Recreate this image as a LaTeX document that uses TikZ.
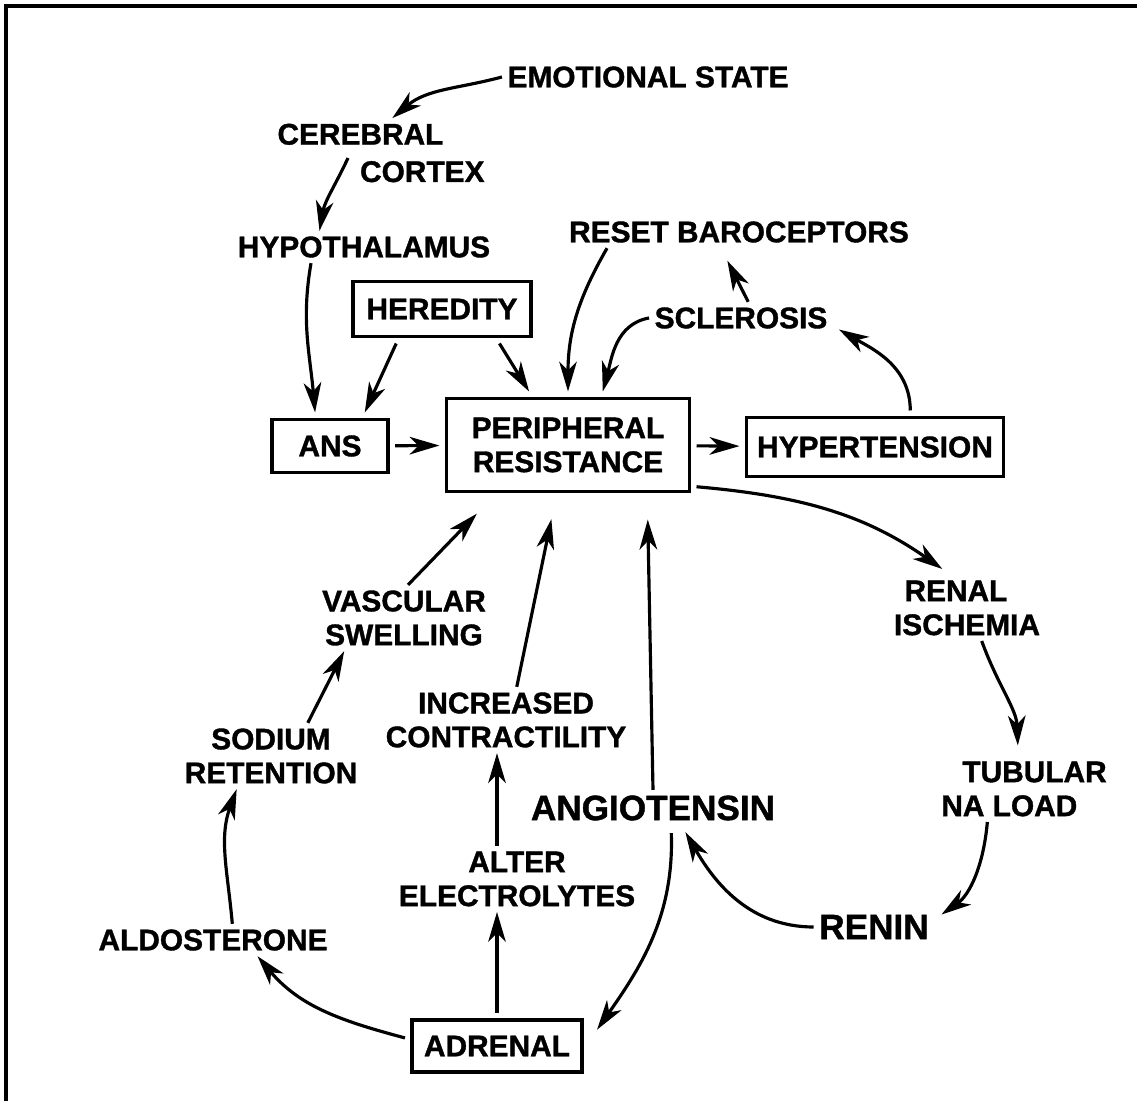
\documentclass[tikz,border=0pt]{standalone}
\usepackage{fontspec}
\setmainfont{Liberation Sans}[BoldFeatures={FakeBold=1.2}]
\usetikzlibrary{arrows.meta}
\tikzstyle{term}=[inner sep=3pt, align=center, font=\fontsize{17}{19.3}\selectfont\bfseries]
\tikzstyle{bigterm}=[term, font=\fontsize{20}{22}\selectfont\bfseries]
\tikzstyle{factor}=[term, draw, line width=1.8pt, outer sep=4pt]
\tikzstyle{conn}=[line width=1.8pt, -{Stealth[length=17pt,width=10pt,inset=5pt]}]
\newcommand{\term}{\node[term]}
\newcommand{\factor}{\node[factor]}

\begin{document}
\begin{tikzpicture}[x=0.02cm, y=-0.02cm]
\useasboundingbox (0,0) rectangle (1137,1101);
\draw[line width=2.6pt] (6,1101) -- (6,6) -- (1137,6);

\term (emo) at (648,77) {EMOTIONAL STATE};
    \term[align=left] (cer) at (381,153) {CEREBRAL\\[2pt]\hspace*{47pt}CORTEX};
    \term (hyp) at (364,247) {HYPOTHALAMUS};
    \term (rb) at (739,232) {RESET BAROCEPTORS};
    \term (scl) at (741,318) {SCLEROSIS};
    \factor[minimum width=3.56cm, minimum height=1.10cm] (her) at (442,309) {HEREDITY};
    \factor[minimum width=2.32cm, minimum height=1.06cm] (ans) at (330,446) {ANS};
    \factor[minimum width=4.86cm, minimum height=1.86cm] (per) at (568,445) {PERIPHERAL\\RESISTANCE};
    \factor[minimum width=5.14cm, minimum height=1.18cm] (hyt) at (875,447) {HYPERTENSION};
    \term[align=left] (ren) at (967,608) {\hspace*{6pt}RENAL\\ISCHEMIA};
    \term (vas) at (404,618) {VASCULAR\\SWELLING};
    \term (inc) at (506,720) {INCREASED\\CONTRACTILITY};
    \term (sod) at (271,756) {SODIUM\\RETENTION};
    \node[bigterm] (ang) at (653,808) {ANGIOTENSIN};
    \term[align=left] (tub) at (1024,789) {\hspace*{12pt}TUBULAR\\NA LOAD};
    \term (alt) at (517,879) {ALTER\\ELECTROLYTES};
    \node[bigterm] (rnn) at (874,927) {RENIN};
    \term (ald) at (213,940) {ALDOSTERONE};
    \factor[minimum width=3.40cm, minimum height=1.04cm] (adr) at (497,1046) {ADRENAL};
    ;
    \path[conn]
    (emo.west) edge[out=195,in=40] (cer.72)
    ([shift={(-33,5)}]cer.center) edge[out=245,in=80] (hyp.160)
    (hyp.197) edge[out=260,in=95] (ans.114)
    (her.217) edge (ans.44)
    (her.329) edge (per.126)
    (rb.187) edge[out=240,in=90] (per.north)
    (scl.west) edge[out=190,in=75] (per.57)
    (scl.66) edge[shorten >=8pt] (rb.222)
    (hyt.46) edge[out=90,in=-30,shorten >=4pt] (scl.-5)
    (ans) edge (per)
    (per) edge (hyt)
    (per.-18) edge[out=-5,in=145,shorten >=6pt] (ren.116)
    (ren.-66) edge[out=-70,in=92,shorten >=6pt] (tub.100)
    (tub.222) edge[out=-95,in=35,shorten >=5pt] (rnn.7)
    (rnn.west) edge[out=180,in=-60,shorten >=4pt] (ang.-32)
    (ang.north) edge[shorten >=12pt] (per.-34)
    (ang.-45) edge[out=-88,in=55,shorten <=4pt,shorten >=8pt] (adr.3)
    (inc.72) edge[shorten >=12pt] (per.257)
    (adr.north |- alt.north) edge (adr.north |- inc.south)
    (adr.north) edge (adr.north |- alt.south)
    (adr.175) edge[out=165,in=-50] (ald.-20)
    (ald.40) edge[out=95,in=-110] (sod.224)
    (sod.42) edge (vas.209)
    (vas.83) edge[shorten >=12pt] (per.215)
    ;
\end{tikzpicture}
\end{document}
